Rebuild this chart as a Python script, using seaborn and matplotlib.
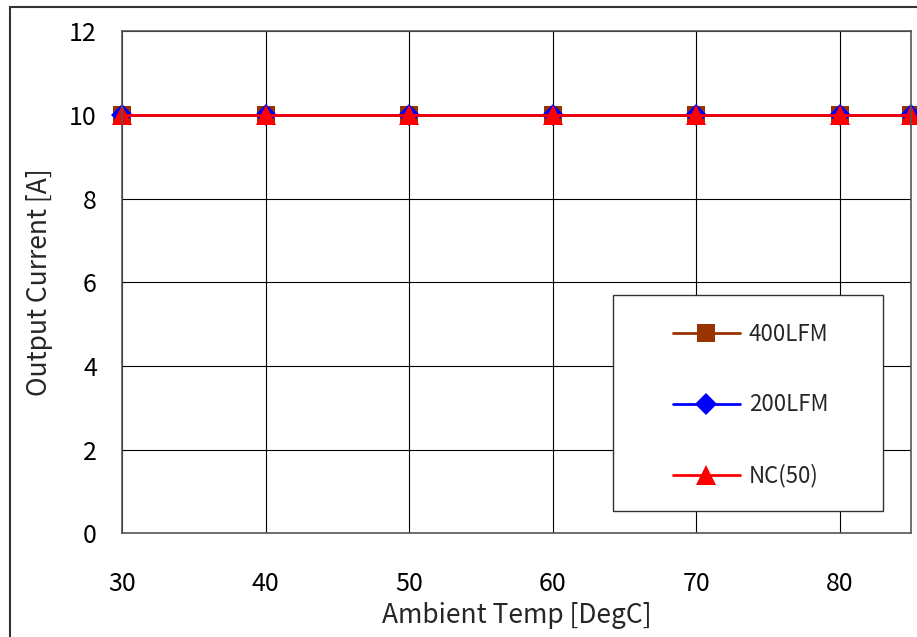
import pandas as pd
import matplotlib
matplotlib.use('Agg')
import matplotlib.pyplot as plt
import seaborn as sns
from matplotlib.patches import Rectangle

# Data
temps = [30, 40, 50, 60, 70, 80, 85]
current_400lfm = [10, 10, 10, 10, 10, 10, 10]
current_200lfm = [10, 10, 10, 10, 10, 10, 10]
current_nc50 = [10, 10, 10, 10, 10, 10, 10]
series_names = ['400LFM', '200LFM', 'NC(50)']

sns.set_theme(style='white')
plt.rcParams['font.family'] = ['Noto Sans CJK JP', 'DejaVu Sans']

fig = plt.figure(figsize=(9.17, 6.37), dpi=100)
ax = fig.add_axes([0.133, 0.163, 0.861, 0.788])

# outer chart border (right/bottom edges fall outside the image)
fig.patches.append(Rectangle((10 / 917, -0.1), 1.2, 1 - 7 / 637 + 0.1,
                             transform=fig.transFigure, fill=False,
                             edgecolor='#333333', linewidth=1.5))

styles = [
    (series_names[0], current_400lfm, '#993300', 's', 11),
    (series_names[1], current_200lfm, '#0000ff', 'D', 8),
    (series_names[2], current_nc50, '#ff0000', '^', 13),
]
for name, vals, col, mk, ms in styles:
    sns.lineplot(x=temps, y=vals, color=col, marker=mk, markersize=ms,
                 markeredgewidth=0, linewidth=2, label=name, ax=ax,
                 clip_on=False)

ax.set_xlim(30, 85)
ax.set_ylim(0, 12)
ax.set_xticks([30, 40, 50, 60, 70, 80])
ax.set_yticks([0, 2, 4, 6, 8, 10, 12])
ax.grid(True, color='black', linewidth=0.8)
ax.set_axisbelow(True)
for s in ax.spines.values():
    s.set_color('#555555')
    s.set_linewidth(1.2)
ax.tick_params(axis='both', length=0, labelsize=18, colors='black')
ax.tick_params(axis='x', pad=27)
ax.tick_params(axis='y', pad=18)
ax.set_xlabel('Ambient Temp [DegC]', fontsize=19, labelpad=4)
ax.set_ylabel('Output Current [A]', fontsize=19, labelpad=12)

# legend box with entries placed inside it
ax.add_patch(Rectangle((0.622, 0.044), 0.342, 0.43, transform=ax.transAxes,
                       facecolor='white', edgecolor='#333333',
                       linewidth=1, zorder=5))
handles, labels = ax.get_legend_handles_labels()
for h, ms in zip(handles, [13, 11, 15]):
    h.set_markersize(ms)
leg = ax.legend(handles, labels, loc='center left',
                bbox_to_anchor=(0.698, 0.255), frameon=False, fontsize=16,
                labelspacing=2.15, handlelength=3, borderpad=0,
                borderaxespad=0, handletextpad=0.4)
leg.set_zorder(6)

fig.savefig('out.png', dpi=100)
